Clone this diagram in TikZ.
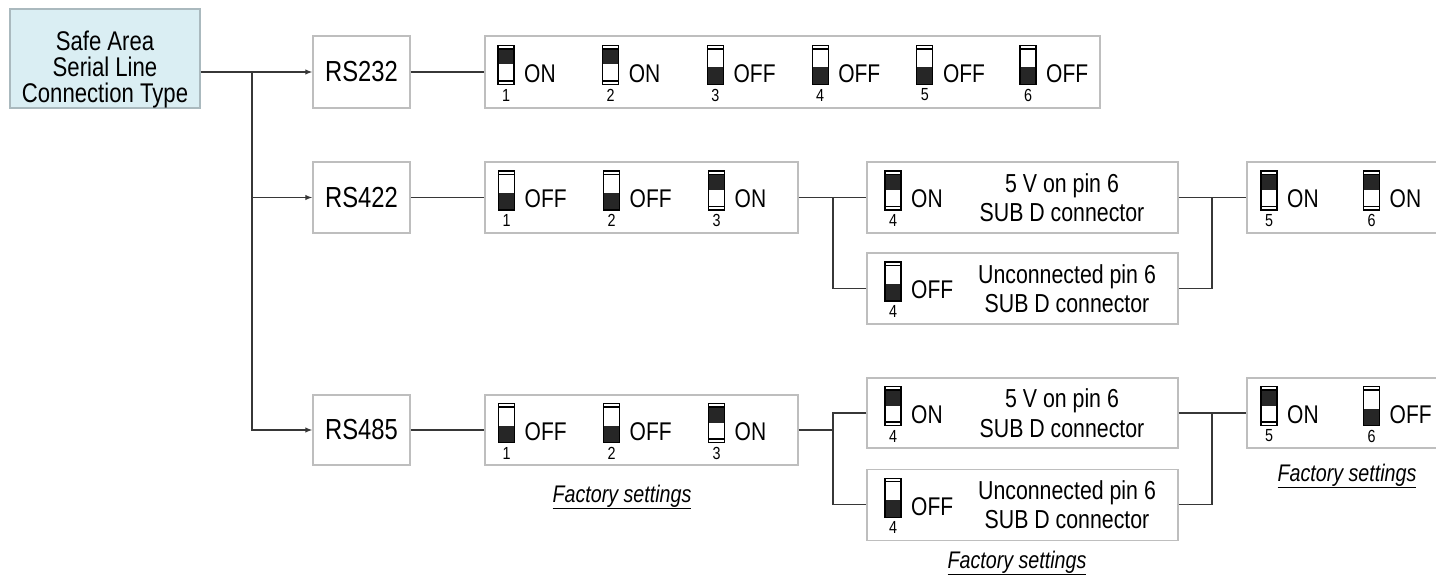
\documentclass[tikz,border=0pt]{standalone}
\usepackage{fontspec}
\setmainfont{Liberation Sans}[FakeStretch=0.82]
\usetikzlibrary{arrows.meta}
\definecolor{safefill}{RGB}{218,238,243}
\definecolor{safeline}{RGB}{170,185,190}
\definecolor{boxline}{RGB}{190,190,190}
\definecolor{conncol}{RGB}{55,55,55}
\newcommand{\dsw}[6]{%
  \pic at (#2,#3-7) {sw#4};
  \node[numf] (#1n) at (#2,#3+23) {#5};
  \node[lab, anchor=west] (#1l) at (#2+18,#3+1.5) {#6};
}
\begin{document}
\begin{tikzpicture}[x=1pt,y=-1pt,
  box/.style={draw=boxline, line width=1.4, fill=white, rectangle, inner sep=0},
  safebox/.style={draw=safeline, line width=1.4, fill=safefill, rectangle, inner sep=0},
  safetxt/.style={align=center, inner sep=0, font=\fontsize{27}{26}\selectfont},
  big/.style={font=\fontsize{29}{29}\selectfont},
  lab/.style={font=\fontsize{25.6}{25.6}\selectfont, inner sep=0},
  txt/.style={font=\fontsize{26}{29.5}\selectfont, inner sep=0, align=center},
  numf/.style={font=\fontsize{17.5}{17.5}\selectfont, inner sep=0},
  fact/.style={font=\fontsize{24}{24}\selectfont\itshape, inner sep=0},
  conn/.style={draw=conncol, line width=1.2},
  arr/.style={conn, -{Latex[length=7,width=5.5]}},
  swl/.style={draw=black, line width=1.1},
  swfill/.style={fill=black!85},
  pics/swon/.style={code={
     \fill[white] (-8,-19.5) rectangle (8,19.5);
     \fill[swfill] (-8,-16) rectangle (8,-0.5);
     \draw[swl] (-8,-16) -- (8,-16) (-8,16) -- (8,16);
     \draw[swl] (-8,-19.5) rectangle (8,19.5);
  }},
  pics/swoff/.style={code={
     \fill[white] (-8,-19.5) rectangle (8,19.5);
     \fill[swfill] (-8,2.5) rectangle (8,19.5);
     \draw[swl] (-8,-16) -- (8,-16);
     \draw[swl] (-8,-19.5) rectangle (8,19.5);
  }}
]
\useasboundingbox (0,0) rectangle (1436,578);
\begin{scope}
\clip (0,0) rectangle (1436,578);

% source
\node[safebox, minimum width=190, minimum height=99] (safe) at (105,58.5) {};
\node[safetxt] (safet) at (105,70) {Safe Area\\Serial Line\\Connection Type};

% RS boxes
\node[box, big, minimum width=97, minimum height=72] (rs232) at (361.5,72) {RS232};
\node[box, big, minimum width=97, minimum height=71] (rs422) at (361.5,197.5) {RS422};
\node[box, big, minimum width=97, minimum height=70] (rs485) at (361.5,430) {RS485};

% switch boxes
\node[box, minimum width=615, minimum height=72] (sw232) at (792.5,72) {};
\node[box, minimum width=313, minimum height=71] (sw422) at (641.5,197.5) {};
\node[box, minimum width=313, minimum height=70] (sw485) at (641.5,430) {};

\node[box, minimum width=311, minimum height=71] (a422) at (1022.5,197.5) {};
\node[box, minimum width=311, minimum height=71] (b422) at (1022.5,288.5) {};
\node[box, minimum width=213, minimum height=71] (c422) at (1353.5,197.5) {};

\node[box, minimum width=311, minimum height=70] (a485) at (1022.5,413) {};
\node[box, minimum width=311, minimum height=71] (b485) at (1022.5,504.7) {};
\node[box, minimum width=213, minimum height=70] (c485) at (1353.5,413) {};

% connectors
\coordinate (j0) at (252,72);
\draw[arr] (safe.east |- rs232.west) -- (rs232.west);
\draw[arr] (j0) |- (rs422.west);
\draw[arr] (j0) |- (rs485.west);
\draw[conn] (rs232.east) -- (sw232.west);
\draw[conn] (rs422.east) -- (sw422.west);
\draw[conn] (rs485.east) -- (sw485.west);

\coordinate (jl422) at (833,197.5);
\coordinate (jr422) at (1212,197.5);
\draw[conn] (sw422.east) -- (a422.west);
\draw[conn] (b422.west) -| (jl422);
\draw[conn] (a422.east) -- (c422.west);
\draw[conn] (b422.east) -| (jr422);

\coordinate (jl485) at (833,413);
\coordinate (jr485) at (1212,413);
\draw[conn] (sw485.east) -- (sw485.east -| jl485);
\draw[conn] (a485.west) -- (jl485) |- (b485.west);
\draw[conn] (a485.east) -- (c485.west);
\draw[conn] (b485.east) -| (jr485);

% RS232 switches
\dsw{s1}{506}{72}{on}{1}{ON}
\dsw{s2}{610.7}{72}{on}{2}{ON}
\dsw{s3}{715.4}{72}{off}{3}{OFF}
\dsw{s4}{820.1}{72}{off}{4}{OFF}
\dsw{s5}{924.8}{72}{off}{5}{OFF}
\dsw{s6}{1028}{72}{off}{6}{OFF}

% RS422 switches
\dsw{t1}{506.5}{197.5}{off}{1}{OFF}
\dsw{t2}{611.5}{197.5}{off}{2}{OFF}
\dsw{t3}{716.5}{197.5}{on}{3}{ON}
\dsw{t4a}{893}{197.5}{on}{4}{ON}
\dsw{t4b}{893}{288.5}{off}{4}{OFF}
\node[txt] (a422t) at (1062,197.5) {5 V on pin 6\\SUB D connector};
\node[txt] (b422t) at (1067,288.5) {Unconnected pin 6\\SUB D connector};
\dsw{t5}{1269}{197.5}{on}{5}{ON}
\dsw{t6}{1371.5}{197.5}{on}{6}{ON}

% RS485 switches
\dsw{u1}{506.5}{430}{off}{1}{OFF}
\dsw{u2}{611.5}{430}{off}{2}{OFF}
\dsw{u3}{716.5}{430}{on}{3}{ON}
\dsw{u4a}{893}{413}{on}{4}{ON}
\dsw{u4b}{893}{504.7}{off}{4}{OFF}
\node[txt] (a485t) at (1062,413) {5 V on pin 6\\SUB D connector};
\node[txt] (b485t) at (1067,504.7) {Unconnected pin 6\\SUB D connector};
\dsw{u5}{1269}{413}{on}{5}{ON}
\dsw{u6}{1371.5}{413}{off}{6}{OFF}

% factory settings
\node[fact] (f1) at (622,497) {\underline{Factory settings}};
\node[fact] (f2) at (1017,563) {\underline{Factory settings}};
\node[fact] (f3) at (1347,476) {\underline{Factory settings}};
\end{scope}
\end{tikzpicture}
\end{document}
